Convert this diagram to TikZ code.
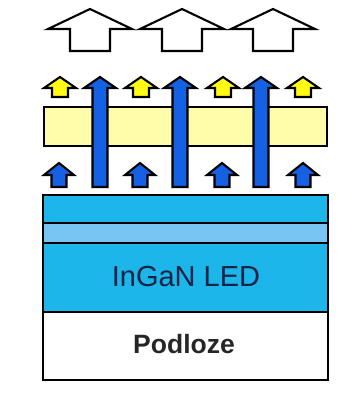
\documentclass[tikz,border=0pt]{standalone}
\usepackage{fontspec}
\setmainfont{Liberation Sans}
\definecolor{layercyan}{RGB}{28,182,234}
\definecolor{layerlight}{RGB}{120,196,242}
\definecolor{bandyellow}{RGB}{255,252,170}
\definecolor{arryellow}{RGB}{255,250,20}
\definecolor{arrblue}{RGB}{22,96,228}
\definecolor{textnavy}{RGB}{18,36,70}
\newcommand{\myarrow}[7]{%
  \draw[arrowline, fill=#1] (#2-#7,#5) -- (#2-#7,#4) -- (#2-#6,#4) -- (#2,#3) -- (#2+#6,#4) -- (#2+#7,#4) -- (#2+#7,#5) -- cycle;}
\tikzset{
  arrowline/.style={draw=black, line width=2.1pt, line join=miter},
  layerbox/.style={draw=black, line width=2.1pt},
}
\begin{document}
\begin{tikzpicture}[x=1pt,y=-1pt]
\useasboundingbox (0,0) rectangle (341,401);
\fill[white] (0,0) rectangle (341,401);
% white arrows
\myarrow{white}{90}{9}{29}{51}{42}{20}
\myarrow{white}{182}{9}{29}{51}{42}{20}
\myarrow{white}{273}{9}{29}{51}{42}{20}
% yellow band
\draw[layerbox, fill=bandyellow] (44,107) rectangle (327,146);
% yellow small arrows
\myarrow{arryellow}{60}{77}{88}{97}{16}{8}
\myarrow{arryellow}{141}{77}{88}{97}{16}{8}
\myarrow{arryellow}{223}{77}{88}{97}{16}{8}
\myarrow{arryellow}{303}{77}{88}{97}{16}{8}
% blue small arrows
\myarrow{arrblue}{59}{163}{175}{187}{15}{7.5}
\myarrow{arrblue}{140}{163}{175}{187}{15}{7.5}
\myarrow{arrblue}{222}{163}{175}{187}{15}{7.5}
\myarrow{arrblue}{303}{163}{175}{187}{15}{7.5}
% tall blue arrows
\myarrow{arrblue}{100}{77}{88}{187}{16}{7.5}
\myarrow{arrblue}{180}{77}{88}{187}{16}{7.5}
\myarrow{arrblue}{261}{77}{88}{187}{16}{7.5}
% layers
\draw[layerbox, fill=layercyan] (43,195) rectangle (328,223);
\draw[layerbox, fill=layerlight] (43,223) rectangle (328,243);
\draw[layerbox, fill=layercyan] (43,243) rectangle (328,312);
\draw[layerbox, fill=white] (43,312) rectangle (328,380);
\node[text=textnavy, font=\fontsize{29}{31}\selectfont] (ingan) at (186,277) {InGaN LED};
\node[text=black!85, font=\fontsize{26.5}{30}\selectfont\bfseries] (podloze) at (184,344) {Podloze};
\end{tikzpicture}
\end{document}
